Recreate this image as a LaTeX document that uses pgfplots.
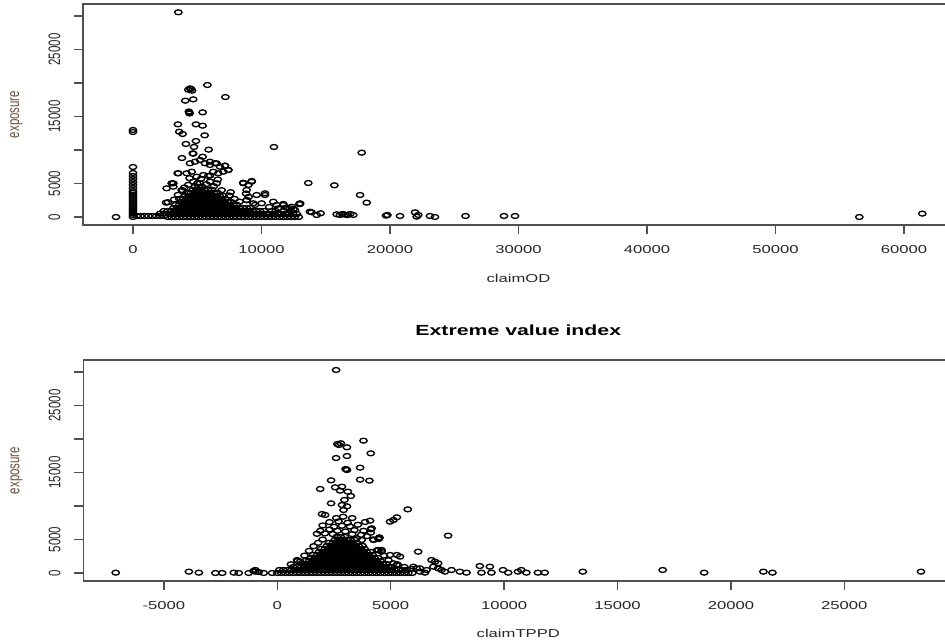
\documentclass[border=0pt]{standalone}
\usepackage{fontspec}
\setmainfont{Liberation Sans}
\usepackage{pgfplots}
\pgfplotsset{compat=1.18}
\definecolor{boxc}{HTML}{505050}
\definecolor{tickc}{HTML}{26262E}
\definecolor{labc}{HTML}{6A5242}
\pgfplotsset{
  rpanel/.style={
    scale only axis,
    anchor=south west,
    axis line style={boxc,line width=1.3pt},
    tick style={boxc,line width=1pt},
    tick align=outside,
    major tick length=7pt,
    tick pos=left,
    ymin=-1200, ymax=31800,
    ytick={0,5000,10000,15000,20000,25000,30000},
    yticklabels={0,5000,,15000,,25000,},
    scaled ticks=false,
    xticklabel style={font=\fontsize{8.6}{10}\selectfont, text=tickc, yshift=-5pt, xscale=1.45},
    yticklabel style={font=\fontsize{8.6}{10}\selectfont, text=tickc, xshift=-5pt, xscale=1.45, rotate=90, anchor=south},
    xlabel style={font=\fontsize{8.6}{10}\selectfont, text=tickc, at={(axis description cs:0.5,0)}, anchor=center, xscale=1.45},
    ylabel style={font=\fontsize{8.6}{10}\selectfont, text=labc, at={(axis description cs:0,0.5)}, anchor=center, rotate=-90, xshift=-50pt, xscale=1.45, rotate=90},
  },
  rpt/.style={only marks, mark=o, mark size=1.85pt, black, mark options={xscale=1.5, line width=1pt}},
}
\begin{document}
\begin{tikzpicture}
\useasboundingbox (0pt,0pt) rectangle (708.75pt,481.5pt);
% ---------------- top panel ----------------
\begin{axis}[rpanel, at={(62.25pt,312.72pt)}, width=653.25pt, height=165.83pt,
  xmin=-3890, xmax=63890,
  xtick={0,10000,20000,30000,40000,50000,60000},
  xticklabels={0,10000,20000,30000,40000,50000,60000},
  xlabel={claimOD}, ylabel={exposure},
  xlabel style={yshift=-39.75pt}]
\addplot[rpt] coordinates {
(-1320,0) (3530,30550) (4440,19200) (4300,19000) (4600,18850) (4520,19100) (5790,19700) (7190,17900) (4070,17360) (4690,17560)
(4380,15620) (4400,15450) (4350,15750) (5420,15620) (3500,13830) (4900,13830) (5420,13630) (3600,12730) (3860,12390) (5580,12190)
(4120,10900) (4900,11340) (5890,10050) (4750,10450) (4690,9450) (10970,10450) (3810,8800) (4650,9500) (5420,9000) (5990,8250)
(6510,8010) (7160,7660) (7420,7010) (3480,6520) (3140,5030) (2620,4280) (3860,3930) (2570,2140) (2720,2200) (8580,5120)
(8980,4780) (9240,5370) (8800,3500) (9000,3000) (8850,2500) (10270,3280) (13640,5070) (12940,1940) (13770,790) (14300,300)
(15670,4730) (17800,9600) (17670,3280) (18190,2140) (13000,2040) (13900,700) (14600,550) (15850,400) (16100,300) (16300,450)
(16500,350) (16700,300) (16900,450) (17140,300) (19690,200) (19800,300) (20780,150) (21950,700) (22080,50) (22200,300)
(23110,150) (23500,0) (25880,150) (28870,150) (29730,150) (56520,0) (61420,500)
};
\addplot[rpt] coordinates {
(4436,8015) (4825,8254) (5214,8507) (5603,8015) (5992,7761) (6381,8015) (6770,7507) (7159,7656) (7416,7015) (7027,6761)
(3526,6522) (4179,6522) (4568,6761) (4957,6015) (5471,6269) (5860,6119) (6249,6761) (6638,6522)
(4693,5269) (5214,5030) (5992,5269) (6513,5030) (3009,5030) (3137,4522) (3790,4030)
(8583,5030) (9237,5269) (8848,4030) (9626,3284) (10272,3537) (8848,2537) (9366,2045) (10015,2045) (10918,2283) (11696,1940)
(12350,1537) (12996,1940) (11180,1790) (11700,1790) (12220,1300) (12610,1040)
(2400,900) (3200,2600) (3500,3300) (7500,3200) (7900,2700) (8300,2300) (9500,1800) (10600,1500) (11300,1300) (11900,1400)
(12500,1200) (4300,4800) (5000,5000) (5700,4900) (6300,4600) (6900,4000) (7600,3700) (4000,4400) (6600,5600) (5300,5700)
(4400,5800) (6000,6200)
};
\addplot[rpt] coordinates {
(0,0) (0,300) (0,600) (0,900) (0,1200) (0,1500) (0,1800) (0,2100) (0,2400) (0,2700) (0,3000) (0,3300) (0,3600)
(0,3880) (0,4330) (0,4780) (0,5220) (0,5670) (0,6120) (0,6570) (0,7460) (0,12690) (0,12990)
};
\addplot[rpt] coordinates {
(300,150) (600,150) (900,150) (1200,150) (1500,150) (1800,150) (2100,150) (2400,150) (2100,500) (2400,500)
(2700,0) (2850,450) (2700,900)
(3000,0) (3150,450) (3000,900) (3150,1350)
(3300,0) (3450,450) (3300,900) (3450,1350) (3300,1800)
(3600,0) (3750,450) (3600,900) (3750,1350) (3600,1800) (3750,2250) (3600,2700)
(3900,0) (4050,450) (3900,900) (4050,1350) (3900,1800) (4050,2250) (3900,2700) (4050,3150)
(4200,0) (4350,450) (4200,900) (4350,1350) (4200,1800) (4350,2250) (4200,2700) (4350,3150) (4200,3600)
(4500,0) (4650,450) (4500,900) (4650,1350) (4500,1800) (4650,2250) (4500,2700) (4650,3150) (4500,3600) (4650,4050)
(4800,0) (4950,450) (4800,900) (4950,1350) (4800,1800) (4950,2250) (4800,2700) (4950,3150) (4800,3600) (4950,4050) (4800,4500)
(5100,0) (5250,450) (5100,900) (5250,1350) (5100,1800) (5250,2250) (5100,2700) (5250,3150) (5100,3600) (5250,4050) (5100,4500)
(5400,0) (5550,450) (5400,900) (5550,1350) (5400,1800) (5550,2250) (5400,2700) (5550,3150) (5400,3600) (5550,4050) (5400,4500)
(5700,0) (5850,450) (5700,900) (5850,1350) (5700,1800) (5850,2250) (5700,2700) (5850,3150) (5700,3600) (5850,4050)
(6000,0) (6150,450) (6000,900) (6150,1350) (6000,1800) (6150,2250) (6000,2700) (6150,3150) (6000,3600) (6150,4050)
(6300,0) (6450,450) (6300,900) (6450,1350) (6300,1800) (6450,2250) (6300,2700) (6450,3150) (6300,3600)
(6600,0) (6750,450) (6600,900) (6750,1350) (6600,1800) (6750,2250) (6600,2700) (6750,3150) (6600,3600)
(6900,0) (7050,450) (6900,900) (7050,1350) (6900,1800) (7050,2250) (6900,2700) (7050,3150)
(7200,0) (7350,450) (7200,900) (7350,1350) (7200,1800) (7350,2250) (7200,2700)
(7500,0) (7650,450) (7500,900) (7650,1350) (7500,1800) (7650,2250)
(7800,0) (7950,450) (7800,900) (7950,1350) (7800,1800)
(8100,0) (8250,450) (8100,900) (8250,1350) (8100,1800)
(8400,0) (8550,450) (8400,900) (8550,1350)
(8700,0) (8850,450) (8700,900) (8850,1350)
(9000,0) (9150,450) (9000,900) (9150,1350)
(9300,0) (9450,450) (9300,900)
(9600,0) (9750,450) (9600,900)
(9900,0) (10050,450) (9900,900)
(10200,0) (10350,450) (10200,900)
(10500,0) (10650,450)
(10800,0) (10950,450) (10800,900)
(11100,0) (11250,450) (11100,900)
(11400,0) (11550,450)
(11700,0) (11850,450) (11700,900)
(12000,0) (12150,450)
(12300,0) (12450,450) (12300,900)
(12600,0) (12750,450)
(12900,0)
};
\end{axis}
% ---------------- bottom panel ----------------
\begin{axis}[rpanel, at={(62.55pt,45.72pt)}, width=652.35pt, height=165.83pt,
  xmin=-8550, xmax=29800,
  xtick={-5000,0,5000,10000,15000,20000,25000},
  xticklabels={-5000,0,5000,10000,15000,20000,25000},
  xlabel={claimTPPD}, ylabel={exposure},
  xlabel style={yshift=-39pt},
  title={Extreme value index},
  title style={font=\bfseries\fontsize{11}{13}\selectfont, text=black, at={(axis description cs:0.5,1)}, anchor=center, yshift=16pt, xscale=1.45}]
\addplot[rpt] coordinates {
(-7125,50) (-3900,200) (-3460,50) (-2730,0) (-2430,0) (-1920,50) (-1700,0) (-1260,0) (-970,200) (-820,150) (-600,0) (-230,0) (-970,450) (-1050,300)
(2590,30300) (3800,19750) (2650,19250) (2800,19360) (3070,18760) (2720,19100) (4120,17860) (2590,17160) (3070,17460) (3010,15520)
(3070,15370) (3040,15450) (3650,15720) (3650,13930) (4060,13780) (2370,13830) (1890,12540) (2550,12790) (2850,12880) (2770,12290)
(3110,12140) (3240,11490) (2960,10900) (2850,10150) (3070,9950) (2920,9400) (2370,10400) (5750,9500) (4970,7660) (5120,7910)
(5270,8310) (3870,7610) (4090,7810) (4120,6520) (4120,6020) (4160,6670) (4460,5070) (4240,4920) (4490,5170) (4240,5020)
(7530,5570) (6210,3180) (1970,8800) (2110,8660) (3720,4930) (3500,5170) (4500,5320)
(6800,1940) (6950,1690) (7090,1450) (6880,940) (7090,700) (7240,450) (7390,200) (6000,940) (6140,700) (6290,200) (6510,50) (6580,450) (6290,700)
(870,1940) (1010,1690) (4970,2690) (5270,2690) (5410,2440) (4600,3430) (4460,3430) (4600,3180) (5120,1450) (5260,1190)
(7680,450) (8050,200) (8340,50) (8930,1040) (9000,50) (9370,940) (9440,50) (9950,450) (10180,50) (10610,200) (10760,450) (10980,50)
(11490,50) (11790,50) (13470,200) (16990,450) (18820,50) (21430,200) (21830,50) (28380,200)
};
\addplot[rpt] coordinates {
(1750,5850) (2100,5900) (2450,5800) (3300,5800) (3700,5700) (3950,5500) (1900,6300) (2300,6500) (2650,6300) (3000,6200)
(3400,6400) (3800,6300) (2000,7100) (2500,6900) (2850,7050) (3200,6950) (3550,7200) (2300,7600) (2700,7700) (3100,7500)
(2600,8200) (2900,8400) (3300,8200)
(600,1300) (900,1800) (1200,2600) (1400,3300) (1600,4000) (1800,4500) (2000,5000) (4400,3400) (4700,2600) (4900,1900)
(5300,1300) (5600,900) (5900,600)
};
\addplot[rpt] coordinates {
(0,0) (88,450) (175,0) (263,450) (350,0) (438,450) (525,0) (613,450)
(700,0) (788,450) (700,900) (875,0) (963,450) (875,900)
(1050,0) (1138,450) (1050,900) (1138,1350)
(1225,0) (1313,450) (1225,900) (1313,1350) (1225,1800)
(1400,0) (1488,450) (1400,900) (1488,1350) (1400,1800) (1488,2250)
(1575,0) (1663,450) (1575,900) (1663,1350) (1575,1800) (1663,2250) (1575,2700)
(1750,0) (1838,450) (1750,900) (1838,1350) (1750,1800) (1838,2250) (1750,2700) (1838,3150)
(1925,0) (2013,450) (1925,900) (2013,1350) (1925,1800) (2013,2250) (1925,2700) (2013,3150) (1925,3600)
(2100,0) (2188,450) (2100,900) (2188,1350) (2100,1800) (2188,2250) (2100,2700) (2188,3150) (2100,3600) (2188,4050)
(2275,0) (2363,450) (2275,900) (2363,1350) (2275,1800) (2363,2250) (2275,2700) (2363,3150) (2275,3600) (2363,4050) (2275,4500)
(2450,0) (2538,450) (2450,900) (2538,1350) (2450,1800) (2538,2250) (2450,2700) (2538,3150) (2450,3600) (2538,4050) (2450,4500) (2538,4950)
(2625,0) (2713,450) (2625,900) (2713,1350) (2625,1800) (2713,2250) (2625,2700) (2713,3150) (2625,3600) (2713,4050) (2625,4500) (2713,4950) (2625,5400)
(2800,0) (2888,450) (2800,900) (2888,1350) (2800,1800) (2888,2250) (2800,2700) (2888,3150) (2800,3600) (2888,4050) (2800,4500) (2888,4950) (2800,5400)
(2975,0) (3063,450) (2975,900) (3063,1350) (2975,1800) (3063,2250) (2975,2700) (3063,3150) (2975,3600) (3063,4050) (2975,4500) (3063,4950) (2975,5400)
(3150,0) (3238,450) (3150,900) (3238,1350) (3150,1800) (3238,2250) (3150,2700) (3238,3150) (3150,3600) (3238,4050) (3150,4500) (3238,4950)
(3325,0) (3413,450) (3325,900) (3413,1350) (3325,1800) (3413,2250) (3325,2700) (3413,3150) (3325,3600) (3413,4050) (3325,4500) (3413,4950)
(3500,0) (3588,450) (3500,900) (3588,1350) (3500,1800) (3588,2250) (3500,2700) (3588,3150) (3500,3600) (3588,4050) (3500,4500)
(3675,0) (3763,450) (3675,900) (3763,1350) (3675,1800) (3763,2250) (3675,2700) (3763,3150) (3675,3600) (3763,4050)
(3850,0) (3938,450) (3850,900) (3938,1350) (3850,1800) (3938,2250) (3850,2700) (3938,3150) (3850,3600)
(4025,0) (4113,450) (4025,900) (4113,1350) (4025,1800) (4113,2250) (4025,2700) (4113,3150)
(4200,0) (4288,450) (4200,900) (4288,1350) (4200,1800) (4288,2250) (4200,2700)
(4375,0) (4463,450) (4375,900) (4463,1350) (4375,1800) (4463,2250)
(4550,0) (4638,450) (4550,900) (4638,1350) (4550,1800)
(4725,0) (4813,450) (4725,900) (4813,1350)
(4900,0) (4988,450) (4900,900) (5075,0) (5163,450) (5075,900)
(5250,0) (5338,450) (5425,0) (5513,450) (5600,0) (5688,450) (5775,0) (5950,0)
};
\end{axis}
\end{tikzpicture}
\end{document}
